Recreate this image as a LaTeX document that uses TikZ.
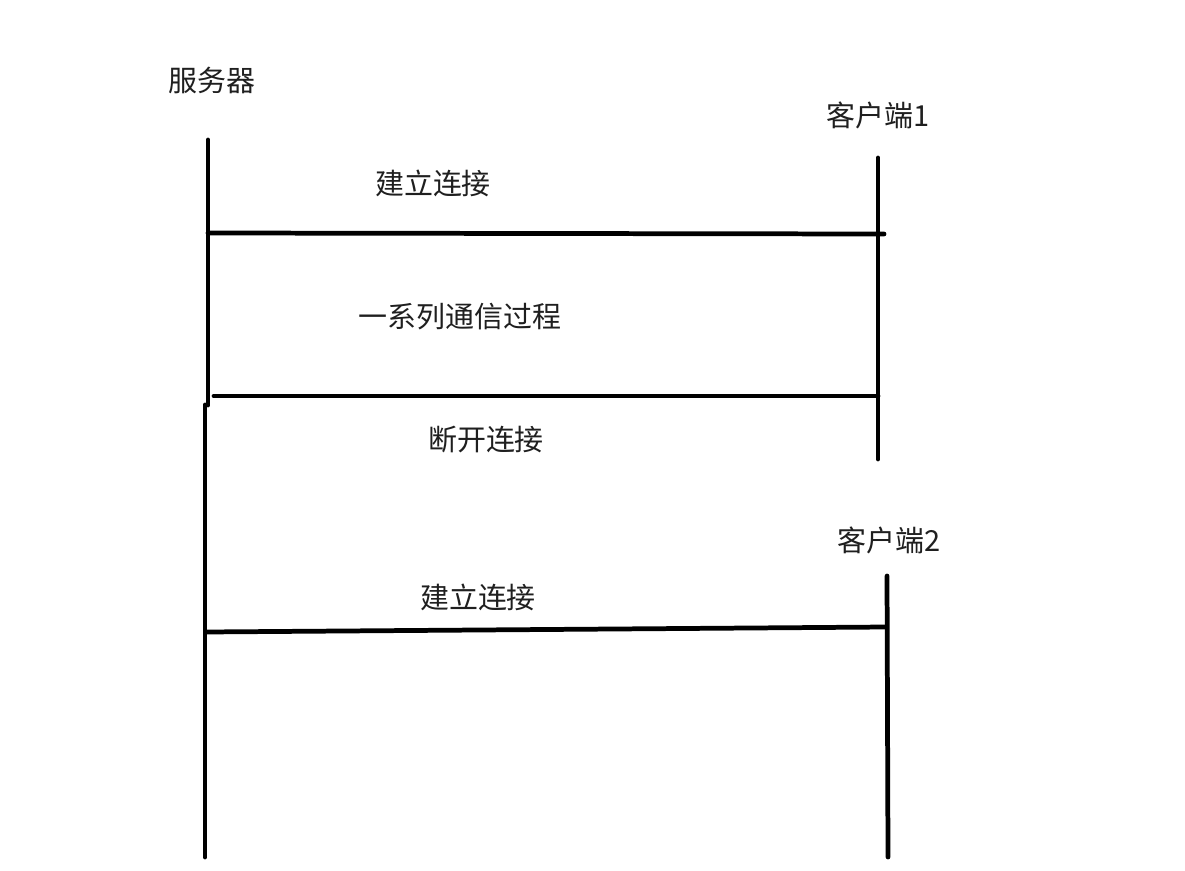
\documentclass[tikz,border=0pt]{standalone}
\usepackage{fontspec}
\newfontfamily\cjk{Noto Sans CJK SC}
\usetikzlibrary{positioning,calc}

\tikzset{
  lifeline/.style={line width=2.7pt,line cap=round},
  msgline/.style={line width=2.7pt,line cap=round},
  lbl/.style={font=\cjk\fontsize{16.5}{20}\selectfont,text=black!88,inner sep=0pt}
}

\begin{document}
\begin{tikzpicture}[x=0.02cm,y=-0.02cm]
        \useasboundingbox (0,0) rectangle (1185,871);
        % lifelines
        \node[lbl] (server) at (212,80) {服务器};
        \coordinate (s0) at (208,140);
        \coordinate (s1) at (208,405);
        \coordinate (s2) at (205,405);
        \coordinate (s3) at (205,857);
        \draw[lifeline] (s0) -- (s1);
        \draw[lifeline] (s2) -- (s3);
        \node[lbl] (client1) at (878,115) {客户端1};
        \coordinate (c1top) at (878,158);
        \coordinate (c1bot) at (878,459);
        \draw[lifeline] (c1top) -- (c1bot);
        \node[lbl] (client2) at (889,540) {客户端2};
        \coordinate (c2top) at (887,576);
        \coordinate (c2bot) at (888,857);
        \draw[lifeline] (c2top) -- (c2bot);
        % messages
        \coordinate (a0) at (208,233);
        \coordinate (a1) at (884,234);
        \draw[msgline] (a0) -- (a1);
        \node[lbl] (connect) at (433,183) {建立连接};
        \coordinate (b0) at (214,396);
        \coordinate (b1) at (878,396);
        \draw[msgline] (b0) -- (b1);
        \node[lbl] (talk) at (460,317) {一系列通信过程};
        \node[lbl] (close) at (486,440) {断开连接};
        \coordinate (d0) at (206,632);
        \coordinate (d1) at (886,627);
        \draw[msgline] (d0) -- (d1);
        \node[lbl] (connectb) at (478,597) {建立连接};
      \end{tikzpicture}
\end{document}
